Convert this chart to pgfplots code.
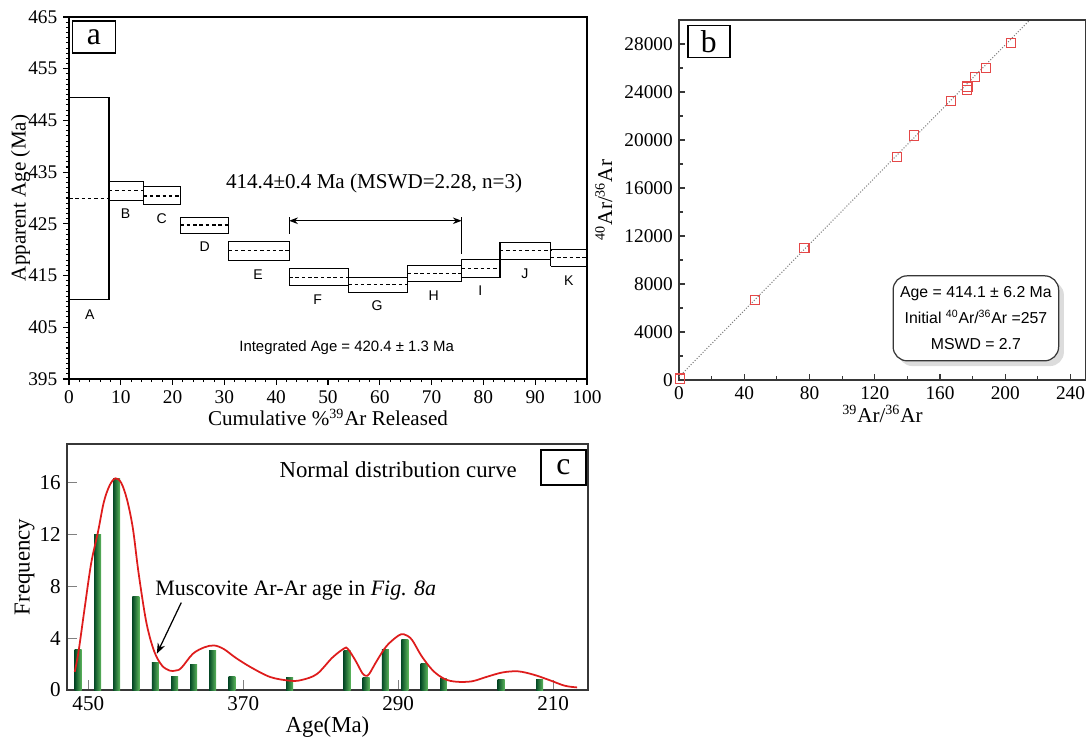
\documentclass[border=0pt]{standalone}
\usepackage{fontspec}
\setmainfont{Liberation Serif}
\newfontfamily\arial{Liberation Sans}
\usepackage{pgfplots}
\pgfplotsset{compat=1.18}
\usetikzlibrary{arrows.meta,shadows}
\definecolor{ptred}{RGB}{228,72,72}
\definecolor{curvered}{RGB}{222,28,28}
\definecolor{bardark}{RGB}{6,74,38}
\definecolor{barlight}{RGB}{92,182,92}
\definecolor{axgray}{RGB}{55,55,55}

% one heating step: x0 x1 low mid high
\newcommand\stepbox[5]{%
  \addplot[black, line width=0.7pt] coordinates {(#1,#3)(#1,#5)(#2,#5)(#2,#3)(#1,#3)};
  \addplot[black, line width=0.7pt, dash pattern=on 2pt off 1.6pt] coordinates {(#1,#4)(#2,#4)};
}
% one histogram bar, shaded on its own
\newcommand\gbar[2]{%
  \addplot[ybar, bar width=3.6, draw=none, left color=bardark, right color=barlight] coordinates {(#1,#2)};
}

\begin{document}
\begin{tikzpicture}
\useasboundingbox (0,0) rectangle (21.72cm,-14.8cm);

% ---------- a: age spectrum ----------
\begin{axis}[
  at={(1.38cm,-7.58cm)}, anchor=south west, scale only axis,
  width=10.36cm, height=7.24cm,
  xmin=0, xmax=100, ymin=395, ymax=465,
  xtick={0,10,...,100}, ytick={395,405,...,465},
  minor x tick num=4, minor y tick num=9,
  tick align=outside, tick pos=left,
  major tick length=0.11cm, minor tick length=0.06cm,
  tick style={black, line width=0.6pt},
  axis line style={line width=0.8pt},
  ticklabel style={font=\fontsize{11}{13}\selectfont},
  /pgf/number format/assume math mode=true,
  xlabel={Cumulative \%\textsuperscript{39}Ar Released},
  ylabel={Apparent Age (Ma)},
  ylabel shift=-0.28cm, xlabel shift=-0.14cm,
  label style={font=\fontsize{12}{14}\selectfont},
]
\stepbox{0}{7.7}{410.3}{429.9}{449.5}
\stepbox{7.7}{14.4}{429.5}{431.4}{433.2}
\stepbox{14.4}{21.5}{428.7}{430.4}{432.2}
\stepbox{21.5}{30.8}{423.2}{424.8}{426.3}
\stepbox{30.8}{42.5}{417.9}{419.8}{421.6}
\stepbox{42.5}{53.9}{413.1}{414.7}{416.3}
\stepbox{53.9}{65.4}{411.7}{413.3}{414.7}
\stepbox{65.4}{75.8}{413.9}{415.4}{416.9}
\stepbox{75.8}{83.2}{414.6}{416.3}{418.1}
\stepbox{83.2}{93.0}{418.1}{419.8}{421.4}
\stepbox{93.0}{100}{416.8}{418.5}{420.1}

\begin{scope}[font=\arial\fontsize{8}{9}\selectfont]
\node at (axis cs:4,407.5) {A};
\node at (axis cs:10.9,426.9) {B};
\node at (axis cs:17.9,426) {C};
\node at (axis cs:26.2,420.5) {D};
\node at (axis cs:36.5,415.2) {E};
\node at (axis cs:48,410.4) {F};
\node at (axis cs:59.5,409.1) {G};
\node at (axis cs:70.4,411.2) {H};
\node at (axis cs:79.4,412) {I};
\node at (axis cs:88,415.4) {J};
\node at (axis cs:96.5,414) {K};
\end{scope}

\draw[line width=0.6pt] (axis cs:42.5,426.3) -- (axis cs:42.5,423.1);
\draw[line width=0.6pt] (axis cs:75.8,426.3) -- (axis cs:75.8,419.2);
\draw[{Stealth[length=5pt]}-{Stealth[length=5pt]}, line width=0.6pt]
  (axis cs:42.5,425.6) -- (axis cs:75.8,425.6);
\node[font=\fontsize{12}{14}\selectfont] at (axis cs:58.9,432.9) {414.4±0.4 Ma (MSWD=2.28, n=3)};
\node[font=\arial\fontsize{8.5}{10}\selectfont] at (axis cs:53.6,401) {Integrated Age = 420.4 ± 1.3 Ma};
\node[draw, line width=0.8pt, minimum width=0.86cm, minimum height=0.64cm, inner sep=0pt,
  font=\fontsize{18}{18}\selectfont] at (axis cs:4.83,461.1) {a};
\end{axis}

% ---------- b: isochron ----------
\begin{axis}[
  at={(13.58cm,-7.6cm)}, anchor=south west, scale only axis,
  width=8.14cm, height=7.2cm,
  xmin=0, xmax=249.5, ymin=0, ymax=30000,
  xtick={0,40,...,240}, ytick={0,4000,...,28000},
  minor x tick num=1, minor y tick num=1,
  tick align=inside, tick pos=left,
  major tick length=0.12cm, minor tick length=0.08cm,
  tick style={axgray, line width=0.7pt},
  axis line style={axgray, line width=1.2pt},
  scaled ticks=false,
  ticklabel style={font=\fontsize{11}{13}\selectfont},
  /pgf/number format/assume math mode=true,
  /pgf/number format/1000 sep={},
  xlabel={\textsuperscript{39}Ar/\textsuperscript{36}Ar},
  ylabel={\textsuperscript{40}Ar/\textsuperscript{36}Ar},
  xlabel shift=-0.12cm,
  label style={font=\fontsize{12}{14}\selectfont},
]
\addplot[gray, line width=0.6pt, densely dotted] coordinates {(0,257)(215,30000)};
\addplot[only marks, mark=square, mark size=2.6pt, ptred, mark options={line width=0.6pt}] coordinates {
  (0.6,120)(46.4,6654)(76.9,10978)(133.5,18602)(143.9,20376)(166.6,23260)
  (176.4,24174)(176.8,24452)(181.3,25283)(188.1,26032)(203.6,28056)
};
\node[draw=axgray, line width=0.7pt, rounded corners=8pt, fill=white,
  drop shadow={shadow xshift=3pt, shadow yshift=-3pt, fill=gray!55},
  minimum width=3.31cm, minimum height=1.7cm, align=center,
  font=\arial\fontsize{9}{14.7}\selectfont] at (axis cs:182,5140)
  {Age = 414.1 ± 6.2 Ma\\Initial \textsuperscript{40}Ar/\textsuperscript{36}Ar =257\\MSWD = 2.7};
\node[draw, line width=0.8pt, minimum width=0.84cm, minimum height=0.64cm, inner sep=0pt,
  font=\fontsize{18}{18}\selectfont] at (axis cs:18.3,28230) {b};
\end{axis}

% ---------- c: frequency histogram ----------
\begin{axis}[
  at={(1.34cm,-13.8cm)}, anchor=south west, scale only axis,
  width=10.42cm, height=4.92cm,
  x dir=reverse,
  xmin=192, xmax=461, ymin=0, ymax=19,
  xtick={450,370,290,210}, ytick={0,4,...,16},
  tick align=inside, tick pos=left,
  major tick length=0.2cm,
  tick style={gray, line width=0.7pt},
  axis line style={axgray, line width=1pt},
  ticklabel style={font=\fontsize{12}{14}\selectfont},
  /pgf/number format/assume math mode=true,
  xlabel={Age(Ma)}, ylabel={Frequency},
  ylabel shift=-0.14cm, xlabel shift=-0.12cm,
  label style={font=\fontsize{13}{15}\selectfont},
]
\gbar{455.2}{3.1}
\gbar{445.2}{12}
\gbar{435.4}{16.3}
\gbar{425.4}{7.2}
\gbar{415.4}{2.16}
\gbar{405.4}{1.03}
\gbar{395.6}{2.0}
\gbar{385.8}{3.06}
\gbar{375.8}{1.03}
\gbar{346}{0.95}
\gbar{316.4}{3.03}
\gbar{306.6}{0.95}
\gbar{296.6}{3.1}
\gbar{286.6}{3.93}
\gbar{276.6}{2.05}
\gbar{266.6}{0.87}
\gbar{236.8}{0.82}
\gbar{217}{0.82}
\addplot[curvered, line width=1pt, smooth, tension=0.55] coordinates {
  (457,1.4)(455,3.0)(452,6.2)(448.5,9.8)(445,12.2)(442,14.5)(439,15.8)
  (436,16.35)(433,16.0)(430,14.7)(427,12.5)(424,9.0)(420,5.2)(416,3.0)
  (412,1.9)(408,1.5)(405,1.5)(402,1.7)(396,2.8)(390,3.3)(385,3.44)
  (380,3.16)(374,2.5)(366,1.75)(356,1.0)(346,0.72)(340,0.77)(332,1.23)
  (324,2.5)(318,3.2)(316,3.18)(312,2.26)(308.5,1.3)(306.6,1.1)(305,1.23)
  (301,2.26)(296,3.4)(290,4.19)(287,4.3)(283,3.9)(278,2.64)(272,1.49)
  (266,0.85)(260,0.64)(252,0.67)(244,1.03)(236,1.36)(228,1.44)(220,1.18)
  (212,0.77)(204,0.33)(197.6,0.2)
};
\node[font=\fontsize{13}{15}\selectfont] at (axis cs:290,17) {Normal distribution curve};
\node[anchor=west, font=\fontsize{12.5}{14}\selectfont, inner sep=0pt] at (axis cs:415.6,7.65)
  {Muscovite Ar-Ar age in \textit{Fig. 8a}};
\draw[-{Stealth[length=6pt]}, line width=0.7pt] (axis cs:402,6.75) -- (axis cs:414.6,2.8);
\node[draw, line width=0.8pt, minimum width=0.9cm, minimum height=0.7cm, inner sep=0pt,
  font=\fontsize{18}{18}\selectfont] at (axis cs:204.7,17.2) {c};
\end{axis}
\end{tikzpicture}
\end{document}
